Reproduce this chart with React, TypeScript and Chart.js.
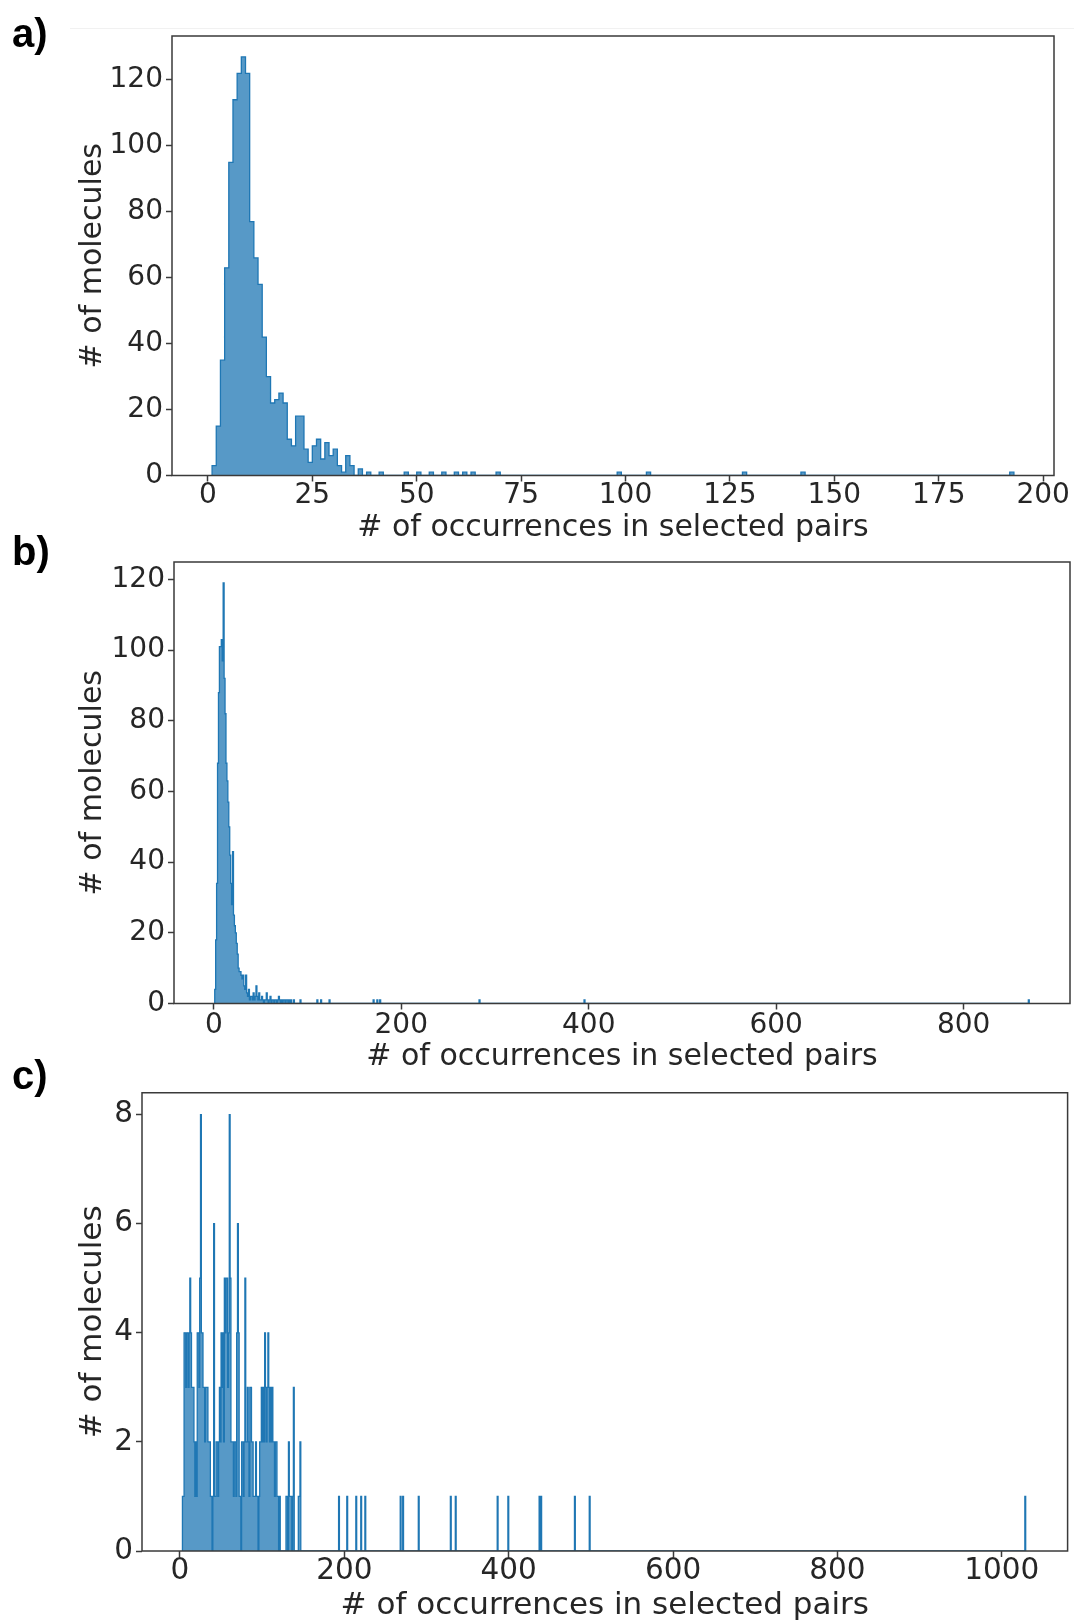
import React, { useEffect, useRef } from "react";
import { Chart, registerables } from "chart.js";

Chart.register(...registerables);

// ---------- shared text ----------
const X_LABEL = "# of occurrences in selected pairs";
const Y_LABEL = "# of molecules";

// ---------- panel a (bin width 1, first bin starts at 1) ----------
const aFirstBin = 1;
const aCounts = [
  3, 15, 35, 63, 95, 114, 122, 127, 122, 77,
  66, 58, 42, 30, 22, 23, 25, 22, 11, 9,
  18, 18, 8, 4, 9, 11, 5, 10, 6, 8,
  3, 1, 6, 3,
];
const aTailBins = [36, 38, 41, 47, 50, 53, 56, 59, 61, 63, 69, 98, 105, 128, 142, 192];
const aTailCounts = [2, 1, 1, 1, 1, 1, 1, 1, 1, 1, 1, 1, 1, 1, 1, 1];
const aXRange = [-8.6, 202.6];
const aXStep = 25;
const aYMax = 133.35;
const aYStep = 20;

// ---------- panel b ----------
const bFirstBin = 1;
const bCounts = [
  4, 18, 34, 68, 88, 101, 101, 103, 97, 119,
  92, 82, 68, 63, 57, 50, 42, 34, 28, 43,
  25, 22, 20, 17, 14, 10, 9, 9, 8, 7,
  8, 5, 4, 8, 3, 2, 4, 1, 2, 2,
  1, 3, 1, 2, 5, 2, 1, 3, 1, 1,
  2, 1, 0, 1, 1, 3, 1, 0, 1, 2,
  0, 1, 1, 0, 1, 1, 0, 1, 2, 1,
  0, 1, 0, 1, 1, 0, 1, 1, 0, 1,
  0, 1, 0, 0, 1,
];
const bTailBins = [92, 110, 114, 123, 170, 174, 177, 283, 395, 869];
const bTailCounts = [1, 1, 1, 1, 1, 1, 1, 1, 1, 1];
const bXRange = [-42.45, 913.45];
const bXStep = 200;
const bYMax = 124.95;
const bYStep = 20;

// ---------- panel c ----------
const cFirstBin = 3;
const cCounts = [
  1, 1, 4, 4, 3, 4, 4, 3, 4, 5,
  4, 3, 3, 3, 2, 1, 2, 1, 4, 4,
  3, 5, 8, 4, 4, 3, 3, 2, 3, 3,
  3, 2, 2, 2, 1, 1, 0, 1, 6, 1,
  1, 2, 2, 1, 2, 3, 2, 4, 3, 4,
  2, 5, 4, 5, 5, 3, 4, 8, 5, 2,
  2, 2, 1, 2, 2, 1, 4, 6, 4, 1,
  1, 0, 2, 2, 1, 2, 5, 2, 2, 3,
  2, 1, 3, 3, 2, 2, 1, 1, 1, 2,
  1, 1, 0, 1, 2, 2, 3, 2, 3, 2,
  4, 3, 2, 3, 4, 3, 2, 3, 2, 3,
  2, 2, 1, 2, 2, 1, 1, 0, 1, 0,
  0, 0, 0, 0, 0, 0, 1, 1, 0, 2,
  1, 1, 1, 0, 1, 3, 0, 0, 0, 0,
  0, 1, 1, 2,
];
const cTailBins = [193, 203, 214, 220, 225, 268, 271, 290, 329, 335, 386, 399, 437, 439, 480, 498, 1028];
const cTailCounts = [1, 1, 1, 1, 1, 1, 1, 1, 1, 1, 1, 1, 1, 1, 1, 1, 1];
const cXRange = [-46.2, 1080];
const cXStep = 200;
const cYMax = 8.4;
const cYStep = 2;

// ---------- styling ----------
const FONT = "DejaVu Sans";
const TEXT = "#262626";
const AXIS = "#3a3a3a";
const FILL = "rgba(31,119,180,0.75)";
const EDGE = "#1f77b4";
const W = 1074;

function histPoints(firstBin: number, counts: number[], tailBins: number[], tailCounts: number[]) {
  const last = Math.max(firstBin + counts.length - 1, ...tailBins);
  const dense: number[] = new Array(last - firstBin + 1).fill(0);
  counts.forEach((c, i) => (dense[i] = c));
  tailBins.forEach((b, i) => (dense[b - firstBin] = tailCounts[i]));
  const pts = [{ x: firstBin, y: 0 }];
  dense.forEach((c, i) => pts.push({ x: firstBin + i, y: c }));
  pts.push({ x: last + 1, y: 0 });
  return pts;
}

type Spec = {
  top: number;
  height: number;
  area: { left: number; top: number; right: number; bottom: number };
  xRange: number[];
  xStep: number;
  yMax: number;
  yStep: number;
  points: { x: number; y: number }[];
  tickSize: number;
  titleSize: number;
  xTickPad: number;
  yTickPad: number;
  xTitlePad: number;
  yTitlePad: number;
};

const framePlugin = {
  id: "frameBox",
  afterDatasetsDraw(chart: any) {
    const { ctx, chartArea: a } = chart;
    ctx.save();
    ctx.strokeStyle = AXIS;
    ctx.lineWidth = 1.5;
    ctx.strokeRect(a.left, a.top, a.right - a.left, a.bottom - a.top);
    ctx.restore();
  },
};

function HistPanel({ spec }: { spec: Spec }) {
  const ref = useRef<HTMLCanvasElement>(null);
  useEffect(() => {
    const s = spec;
    const H = s.height;
    const areaTop = s.area.top - s.top;
    const areaBottom = s.area.bottom - s.top;
    const tickFont = { family: FONT, size: s.tickSize, lineHeight: 1 };
    const titleFont = { family: FONT, size: s.titleSize, lineHeight: 1 };
    const chart = new Chart(ref.current as HTMLCanvasElement, {
      type: "line",
      data: {
        datasets: [
          {
            data: s.points,
            stepped: true,
            fill: "origin",
            backgroundColor: FILL,
            borderColor: EDGE,
            borderWidth: 1.3,
            pointRadius: 0,
            pointHoverRadius: 0,
            tension: 0,
          },
        ],
      },
      options: {
        animation: false,
        responsive: false,
        maintainAspectRatio: false,
        events: [],
        normalized: true,
        layout: { padding: { left: 0, top: areaTop, right: W - s.area.right, bottom: 0 } },
        plugins: { legend: { display: false }, tooltip: { enabled: false } },
        scales: {
          x: {
            type: "linear",
            min: s.xRange[0],
            max: s.xRange[1],
            ticks: {
              stepSize: s.xStep,
              includeBounds: false,
              autoSkip: false,
              maxRotation: 0,
              minRotation: 0,
              padding: s.xTickPad,
              color: TEXT,
              font: tickFont,
              callback: (v: any) => String(v),
            },
            grid: {
              drawOnChartArea: false,
              drawTicks: true,
              tickLength: 6,
              tickWidth: 1.5,
              tickColor: AXIS,
            },
            border: { display: false },
            title: {
              display: true,
              text: X_LABEL,
              color: TEXT,
              font: titleFont,
              padding: { top: 0, bottom: s.xTitlePad },
            },
            afterFit: (sc: any) => {
              sc.height = H - areaBottom;
            },
          },
          y: {
            type: "linear",
            min: 0,
            max: s.yMax,
            ticks: {
              stepSize: s.yStep,
              includeBounds: false,
              padding: s.yTickPad,
              color: TEXT,
              font: tickFont,
              callback: (v: any) => String(v),
            },
            grid: {
              drawOnChartArea: false,
              drawTicks: true,
              tickLength: 6,
              tickWidth: 1.5,
              tickColor: AXIS,
            },
            border: { display: false },
            title: {
              display: true,
              text: Y_LABEL,
              color: TEXT,
              font: titleFont,
              padding: { top: s.yTitlePad, bottom: 0 },
            },
            afterFit: (sc: any) => {
              sc.width = s.area.left;
            },
          },
        },
      },
      plugins: [framePlugin],
    } as any);
    return () => chart.destroy();
  }, [spec]);
  return (
    <canvas
      ref={ref}
      width={W}
      height={spec.height}
      style={{ position: "absolute", left: 0, top: spec.top, width: W, height: spec.height }}
    />
  );
}

const specA: Spec = {
  top: 0,
  height: 545,
  area: { left: 172, top: 36, right: 1054, bottom: 475.5 },
  xRange: aXRange,
  xStep: aXStep,
  yMax: aYMax,
  yStep: aYStep,
  points: histPoints(aFirstBin, aCounts, aTailBins, aTailCounts),
  tickSize: 28,
  titleSize: 30,
  xTickPad: 0.5,
  yTickPad: 3,
  xTitlePad: 2,
  yTitlePad: 78,
};

const specB: Spec = {
  top: 545,
  height: 530,
  area: { left: 174, top: 559, right: 1070, bottom: 1003.5 },
  xRange: bXRange,
  xStep: bXStep,
  yMax: bYMax,
  yStep: bYStep,
  points: histPoints(bFirstBin, bCounts, bTailBins, bTailCounts),
  tickSize: 28,
  titleSize: 30,
  xTickPad: 2.2,
  yTickPad: 3,
  xTitlePad: 2.5,
  yTitlePad: 78,
};

const specC: Spec = {
  top: 1075,
  height: 549,
  area: { left: 142, top: 1088.5, right: 1067.6, bottom: 1551 },
  xRange: cXRange,
  xStep: cXStep,
  yMax: cYMax,
  yStep: cYStep,
  points: histPoints(cFirstBin, cCounts, cTailBins, cTailCounts),
  tickSize: 29.5,
  titleSize: 31,
  xTickPad: 0,
  yTickPad: 3,
  xTitlePad: 3,
  yTitlePad: 77.5,
};

const panelLabelStyle: React.CSSProperties = {
  position: "absolute",
  left: 12,
  fontFamily: "Liberation Sans, Arial, sans-serif",
  fontWeight: 700,
  fontSize: 40,
  lineHeight: "1",
  color: "#000",
};

export default function App() {
  return (
    <div style={{ position: "absolute", left: 0, top: 0, width: W, height: 1624, background: "#fff" }}>
      <div style={{ position: "absolute", left: 70, top: 28, width: W - 70, height: 1, background: "#f1f1f1" }} />
      <HistPanel spec={specA} />
      <HistPanel spec={specB} />
      <HistPanel spec={specC} />
      <div style={{ ...panelLabelStyle, top: 13 }}>a)</div>
      <div style={{ ...panelLabelStyle, top: 531 }}>b)</div>
      <div style={{ ...panelLabelStyle, top: 1055 }}>c)</div>
    </div>
  );
}
